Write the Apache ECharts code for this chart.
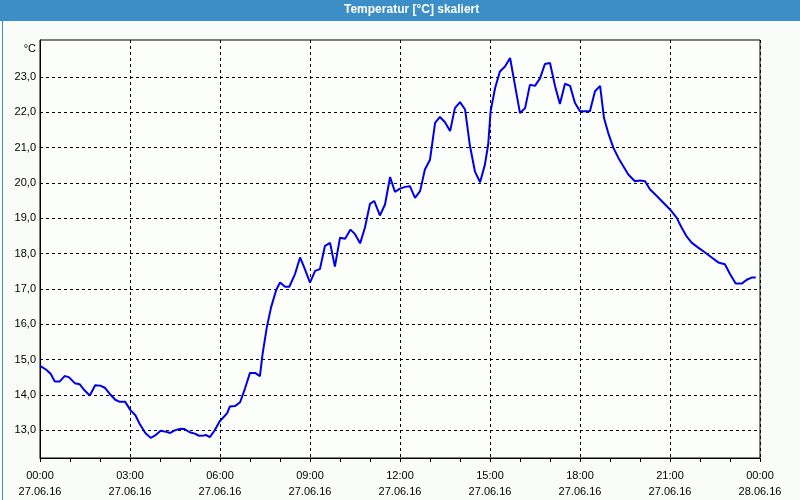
<!DOCTYPE html>
<html><head><meta charset="utf-8">
<script src="https://cdn.jsdelivr.net/npm/echarts@6/dist/echarts.min.js"></script>
<style>html,body{margin:0;padding:0;background:#fafcfa}#c{width:800px;height:500px}</style>
</head><body><div id="c"></div>
<script>
const titleText = 'Temperatur [°C] skaliert';
const yUnit = '°C';
const yTicks = [13, 14, 15, 16, 17, 18, 19, 20, 21, 22, 23];
const xTickHours = [0, 3, 6, 9, 12, 15, 18, 21, 24];
const dateLabels = ['27.06.16', '28.06.16'];
const hours = [0.00,0.21,0.36,0.49,0.66,0.82,0.96,1.16,1.32,1.49,1.66,1.84,2.01,2.16,2.32,2.51,2.66,2.84,3.02,3.18,3.32,3.51,3.69,3.84,4.02,4.21,4.34,4.51,4.69,4.82,4.99,5.16,5.30,5.46,5.54,5.66,5.82,5.99,6.10,6.24,6.33,6.50,6.67,6.83,7.00,7.17,7.33,7.42,7.56,7.70,7.87,8.00,8.17,8.31,8.50,8.67,8.83,9.00,9.17,9.33,9.50,9.67,9.83,10.00,10.17,10.35,10.50,10.67,10.83,11.00,11.14,11.33,11.50,11.67,11.83,12.00,12.17,12.33,12.50,12.67,12.83,13.00,13.17,13.33,13.50,13.67,13.83,14.00,14.17,14.33,14.50,14.67,14.83,14.94,15.02,15.17,15.33,15.50,15.67,15.83,16.00,16.17,16.33,16.50,16.67,16.83,17.00,17.17,17.33,17.50,17.67,17.83,18.00,18.33,18.50,18.67,18.80,18.94,19.11,19.28,19.44,19.61,19.83,20.00,20.17,20.33,20.56,20.78,21.00,21.22,21.39,21.56,21.72,21.94,22.17,22.39,22.61,22.83,23.00,23.19,23.39,23.56,23.72,23.86];
const temps = [14.82,14.71,14.59,14.38,14.38,14.53,14.50,14.33,14.30,14.12,13.98,14.27,14.26,14.20,14.03,13.86,13.80,13.80,13.56,13.42,13.18,12.92,12.78,12.85,12.98,12.95,12.92,13.00,13.04,13.03,12.94,12.90,12.84,12.85,12.86,12.80,12.99,13.25,13.35,13.48,13.67,13.68,13.79,14.17,14.62,14.62,14.53,15.16,15.91,16.47,16.96,17.18,17.06,17.06,17.42,17.89,17.56,17.18,17.51,17.56,18.22,18.30,17.63,18.45,18.42,18.68,18.55,18.29,18.73,19.41,19.49,19.08,19.39,20.17,19.75,19.84,19.89,19.91,19.58,19.77,20.38,20.66,21.70,21.87,21.72,21.47,22.12,22.29,22.08,21.06,20.32,20.02,20.52,21.09,22.03,22.69,23.16,23.30,23.54,22.78,21.98,22.12,22.78,22.75,22.97,23.37,23.40,22.74,22.24,22.81,22.75,22.27,22.03,22.03,22.60,22.75,21.84,21.42,21.00,20.71,20.48,20.24,20.05,20.07,20.05,19.82,19.63,19.44,19.25,19.02,18.73,18.48,18.31,18.17,18.03,17.89,17.75,17.70,17.42,17.15,17.15,17.26,17.32,17.32];

const FONT = 'Liberation Sans';
const chart = echarts.init(document.getElementById('c'), null, {renderer: 'canvas'});
const seriesData = hours.map((h, i) => [h, temps[i]]);
const pad = n => (n < 10 ? '0' : '') + n;
chart.setOption({
  backgroundColor: '#fafcfa',
  animation: false,
  graphic: [
    {type: 'rect', left: 0, top: 0, shape: {width: 800, height: 21}, style: {fill: '#3c8fc6'}, z: 0},
    {type: 'rect', left: 0, top: 0, shape: {x: 0.5, y: 0.5, width: 799, height: 499}, style: {fill: null, stroke: '#3c8fc6', lineWidth: 1}, z: 0}
  ],
  title: {
    text: titleText, left: 344, top: 2, padding: 0,
    textStyle: {color: '#ffffff', fontFamily: FONT, fontSize: 12, fontWeight: 'bold', lineHeight: 16}
  },
  grid: {left: 40, right: 40, top: 40, bottom: 40, show: true, borderColor: '#000', borderWidth: 1, backgroundColor: '#fcfefc'},
  xAxis: {
    type: 'value', min: 0, max: 24, interval: 3,
    axisLine: {show: true, lineStyle: {color: '#000', width: 1}},
    axisTick: {show: true, length: 4, lineStyle: {color: '#000'}},
    minorTick: {show: true, splitNumber: 3, length: 4, lineStyle: {color: '#000'}},
    splitLine: {show: true, lineStyle: {color: '#000', type: [3, 3], width: 1}},
    axisLabel: {
      margin: 10, color: '#000', fontFamily: FONT, fontSize: 11, lineHeight: 16,
      customValues: xTickHours,
      formatter: v => pad(Math.round(v) % 24) + ':00\n' + (v >= 24 ? dateLabels[1] : dateLabels[0])
    }
  },
  yAxis: {
    type: 'value', min: 12.21, max: 24.05,
    name: yUnit, nameLocation: 'end', nameGap: -3,
    nameTextStyle: {align: 'right', verticalAlign: 'top', padding: [0, 4, 0, 0], color: '#000', fontFamily: FONT, fontSize: 11},
    axisLine: {show: true, lineStyle: {color: '#000', width: 1}},
    axisTick: {show: true, length: 0, customValues: yTicks},
    splitLine: {show: true, lineStyle: {color: '#000', type: [3, 3], width: 1}},
    axisLabel: {
      margin: 4, color: '#000', fontFamily: FONT, fontSize: 11,
      customValues: yTicks,
      formatter: v => v.toFixed(1).replace('.', ',')
    }
  },
  series: [{
    type: 'line', data: seriesData, showSymbol: false, smooth: false,
    lineStyle: {color: '#0000e6', width: 2}, itemStyle: {color: '#0000e6'}
  }]
});
</script></body></html>
